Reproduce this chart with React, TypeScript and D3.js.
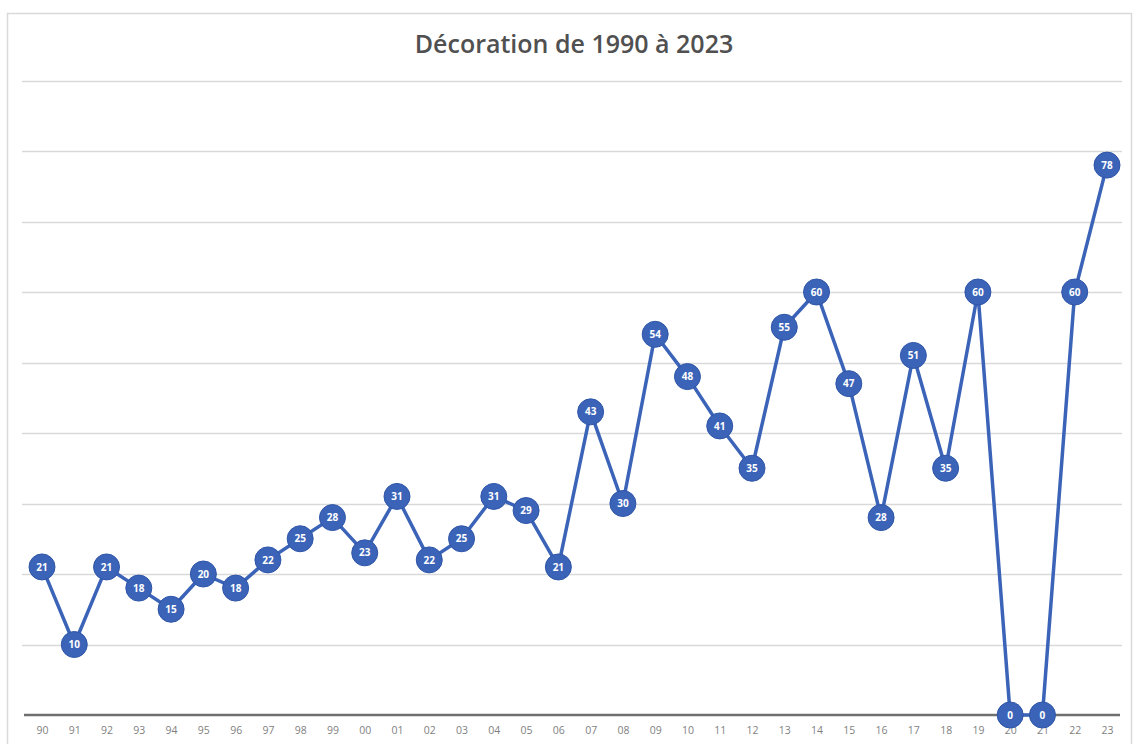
import React, { useEffect, useRef } from "react";
import * as d3 from "d3";

// années (2 chiffres) et valeurs
const years = [
  "90", "91", "92", "93", "94", "95", "96", "97", "98", "99",
  "00", "01", "02", "03", "04", "05", "06", "07", "08", "09",
  "10", "11", "12", "13", "14", "15", "16", "17", "18", "19",
  "20", "21", "22", "23",
];
const values = [
  21, 10, 21, 18, 15, 20, 18, 22, 25, 28,
  23, 31, 22, 25, 31, 29, 21, 43, 30, 54,
  48, 41, 35, 55, 60, 47, 28, 51, 35, 60,
  0, 0, 60, 78,
];
const gridTicks = [10, 20, 30, 40, 50, 60, 70, 80, 90];
const title = "Décoration de 1990 à 2023";

const W = 1133;
const H = 744;
const blue = "#3b64b8";

export default function App() {
  const svgRef = useRef<SVGSVGElement | null>(null);

  useEffect(() => {
    const svg = d3.select(svgRef.current);
    svg.selectAll("*").remove();

    const x = d3.scalePoint<string>().domain(years).range([42, 1107]);
    const y = d3.scaleLinear().domain([0, 90]).range([715, 80.5]);

    // cadre du graphique
    svg.append("rect")
      .attr("x", 7.5)
      .attr("y", 13.5)
      .attr("width", W - 9)
      .attr("height", H - 10)
      .attr("fill", "#ffffff")
      .attr("stroke", "#d9d9d9")
      .attr("stroke-width", 1.5);

    svg.append("text")
      .attr("x", 574)
      .attr("y", 53)
      .attr("text-anchor", "middle")
      .attr("font-family", "Open Sans, sans-serif")
      .attr("font-weight", 600)
      .attr("font-size", 25)
      .attr("fill", "#505050")
      .text(title);

    // quadrillage
    svg.append("g")
      .selectAll("line")
      .data(gridTicks)
      .join("line")
      .attr("x1", 22)
      .attr("x2", 1122)
      .attr("y1", (d) => Math.round(y(d)) + 0.5)
      .attr("y2", (d) => Math.round(y(d)) + 0.5)
      .attr("stroke", "#d9d9d9")
      .attr("stroke-width", 1.5);

    // axe des x
    const xAxis = svg.append("g")
      .attr("transform", `translate(0,${y(0)})`)
      .call(d3.axisBottom(x).tickSize(0).tickPadding(12));
    xAxis.select(".domain")
      .attr("d", "M24,0H1120")
      .attr("stroke", "#6f6f6f")
      .attr("stroke-width", 2.5);
    xAxis.selectAll("text")
      .attr("font-family", "Open Sans, sans-serif")
      .attr("font-size", 10.5)
      .attr("fill", "#7f7f7f");

    const line = d3.line<number>()
      .x((_, i) => x(years[i]) as number)
      .y((d) => y(d));

    svg.append("path")
      .datum(values)
      .attr("d", line)
      .attr("fill", "none")
      .attr("stroke", blue)
      .attr("stroke-width", 3.5)
      .attr("stroke-linejoin", "round");

    const pts = svg.append("g")
      .selectAll("g")
      .data(values)
      .join("g")
      .attr("transform", (d, i) => `translate(${x(years[i])},${y(d)})`);

    pts.append("circle")
      .attr("r", 13)
      .attr("fill", blue)
      .attr("stroke", "#2f55a8")
      .attr("stroke-width", 1);

    pts.append("text")
      .attr("text-anchor", "middle")
      .attr("dy", "0.36em")
      .attr("font-family", "Open Sans, sans-serif")
      .attr("font-weight", 700)
      .attr("font-size", 10)
      .attr("fill", "#ffffff")
      .text((d) => d);
  }, []);

  return (
    <svg
      ref={svgRef}
      width={W}
      height={H}
      style={{ position: "absolute", left: 0, top: 0, background: "#ffffff" }}
    />
  );
}
